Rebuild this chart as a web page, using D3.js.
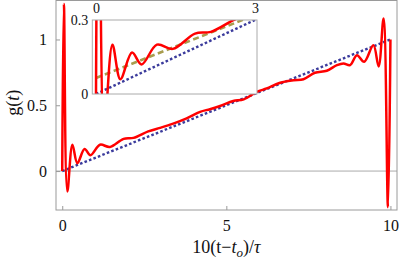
<!DOCTYPE html>
<html><head><meta charset="utf-8">
<script src="https://cdn.jsdelivr.net/npm/d3@7"></script>
<style>
html,body{margin:0;padding:0;background:#fff;}
svg{display:block;}
</style></head>
<body><svg id="c" width="399" height="262"></svg>
<script>
// ---- data ----
const tVals = [0, 0.05, 0.155, 0.31, 0.46, 0.68, 0.86, 1.15, 1.45, 1.87, 2.17, 2.62, 2.98, 3.38, 3.79, 4.2, 4.5, 4.81, 5.21, 5.53, 5.93, 6.23, 6.64, 7.05, 7.35, 7.70, 8.06, 8.37, 8.57, 8.77, 8.98, 9.20, 9.48, 9.64, 9.79, 9.925, 10.0];
const gVals = [0, 1.27, -0.155, 0.20, 0.06, 0.168, 0.12, 0.20, 0.183, 0.245, 0.252, 0.302, 0.328, 0.36, 0.40, 0.45, 0.47, 0.494, 0.532, 0.545, 0.602, 0.628, 0.671, 0.69, 0.698, 0.747, 0.762, 0.805, 0.818, 0.805, 0.88, 0.83, 0.957, 0.795, 1.16, -0.275, 1.0];
const linearT = [0, 10];
const linearG = [0, 1];
const fitT = [0, 3.1];
const fitG = [0.065, 0.3285];
const xTicks = [0, 5, 10];
const yTicks = [0, 0.5, 1];
const yTickLabels = ["0", "0.5", "1"];
const insetXTicks = [0, 3];
const insetYTicks = [0, 0.3];
const insetYTickLabels = ["0", "0.3"];

const FONT = "Liberation Serif";
const redPts = tVals.map((t, i) => [t, gVals[i]]);
const linPts = linearT.map((t, i) => [t, linearG[i]]);
const fitPts = fitT.map((t, i) => [t, fitG[i]]);

const svg = d3.select("#c").attr("font-family", FONT);
const FRAME = "#9a9a9a";

// ---- main plot ----
const L = 56, R = 397, T = 0.5, B = 210;
const x = d3.scaleLinear().domain([-0.19, 10.2]).range([L, R]);
const y = d3.scaleLinear().domain([-0.296, 1.3]).range([B, 0]);

svg.append("clipPath").attr("id", "mclip").append("rect")
  .attr("x", L).attr("y", T).attr("width", R - L).attr("height", B - T);

svg.append("line").attr("x1", L).attr("x2", R).attr("y1", y(0)).attr("y2", y(0))
  .attr("stroke", "#aaaaaa").attr("stroke-width", 1);

const mg = svg.append("g").attr("clip-path", "url(#mclip)");
const line = d3.line().x(d => x(d[0])).y(d => y(d[1]));
const curve = d3.line().x(d => x(d[0])).y(d => y(d[1])).curve(d3.curveCatmullRom.alpha(0.5));

mg.append("path").attr("d", line(linPts)).attr("fill", "none")
  .attr("stroke", "#3b3b9c").attr("stroke-width", 2.4).attr("stroke-dasharray", "2.6,2.2");
mg.append("path").attr("d", curve(redPts)).attr("fill", "none")
  .attr("stroke", "#ff0000").attr("stroke-width", 2.5).attr("stroke-linejoin", "round");

svg.append("rect").attr("x", L).attr("y", T).attr("width", R - L).attr("height", B - T)
  .attr("fill", "none").attr("stroke", FRAME).attr("stroke-width", 1);

const xAxis = d3.axisBottom(x).tickValues(xTicks).tickSize(-4).tickPadding(10).tickFormat(d3.format("d"));
const gx = svg.append("g").attr("transform", `translate(0,${B})`).call(xAxis);
const yAxis = d3.axisLeft(y).tickValues(yTicks).tickSize(-4).tickPadding(9).tickFormat((d, i) => yTickLabels[i]);
const gy = svg.append("g").attr("transform", `translate(${L},0)`).call(yAxis);
[gx, gy].forEach(g => {
  g.attr("font-family", FONT).attr("font-size", 16);
  g.select(".domain").remove();
  g.selectAll(".tick line").attr("stroke", FRAME);
  g.selectAll(".tick text").attr("fill", "#111");
});

const xt = svg.append("text").attr("x", (x(0) + x(10)) / 2).attr("y", 253)
  .attr("text-anchor", "middle").attr("font-family", FONT).attr("font-size", 18).attr("fill", "#111");
xt.append("tspan").text("10(t\u2212");
xt.append("tspan").attr("font-style", "italic").text("t");
xt.append("tspan").attr("font-style", "italic").attr("dy", 4).attr("font-size", 13).text("o");
xt.append("tspan").attr("dy", -4).text(")/");
xt.append("tspan").attr("font-style", "italic").text("\u03C4");

const yt = svg.append("text").attr("transform", `translate(19,${y(0.52)}) rotate(-90)`)
  .attr("text-anchor", "middle").attr("font-family", FONT).attr("font-size", 18).attr("fill", "#111");
yt.append("tspan").text("g(");
yt.append("tspan").attr("font-style", "italic").text("t");
yt.append("tspan").text(")");

// ---- inset ----
const iL = 92.3, iR = 257, iT = 20, iB = 94;
const ix = d3.scaleLinear().domain([-0.07, 3.04]).range([iL, iR]);
const iy = d3.scaleLinear().domain([0, 0.3]).range([iB, iT]);

svg.append("rect").attr("x", iL).attr("y", iT).attr("width", iR - iL).attr("height", iB - iT)
  .attr("fill", "#fff");
svg.append("clipPath").attr("id", "iclip").append("rect")
  .attr("x", iL).attr("y", iT).attr("width", iR - iL).attr("height", iB - iT);
const ig = svg.append("g").attr("clip-path", "url(#iclip)");
const iline = d3.line().x(d => ix(d[0])).y(d => iy(d[1]));
const icurve = d3.line().x(d => ix(d[0])).y(d => iy(d[1])).curve(d3.curveCatmullRom.alpha(0.5));

ig.append("path").attr("d", iline(linPts)).attr("fill", "none")
  .attr("stroke", "#3b3b9c").attr("stroke-width", 2.4).attr("stroke-dasharray", "2.6,2.2");
ig.append("path").attr("d", iline(fitPts)).attr("fill", "none")
  .attr("stroke", "#a89d4e").attr("stroke-width", 2.5).attr("stroke-dasharray", "6,3.5");
ig.append("path").attr("d", icurve(redPts)).attr("fill", "none")
  .attr("stroke", "#ff0000").attr("stroke-width", 2.5).attr("stroke-linejoin", "round");

svg.append("rect").attr("x", iL).attr("y", iT).attr("width", iR - iL).attr("height", iB - iT)
  .attr("fill", "none").attr("stroke", "#aaaaaa").attr("stroke-width", 1);

const ixAxis = d3.axisTop(ix).tickValues(insetXTicks).tickSize(0).tickPadding(7).tickFormat(d3.format("d"));
const gix = svg.append("g").attr("transform", `translate(0,${iT})`).call(ixAxis);
const iyAxis = d3.axisLeft(iy).tickValues(insetYTicks).tickSize(0).tickPadding(4).tickFormat((d, i) => insetYTickLabels[i]);
const giy = svg.append("g").attr("transform", `translate(${iL},0)`).call(iyAxis);
[gix, giy].forEach(g => {
  g.attr("font-family", FONT).attr("font-size", 14);
  g.select(".domain").remove();
  g.selectAll(".tick text").attr("fill", "#111");
});
</script></body></html>
